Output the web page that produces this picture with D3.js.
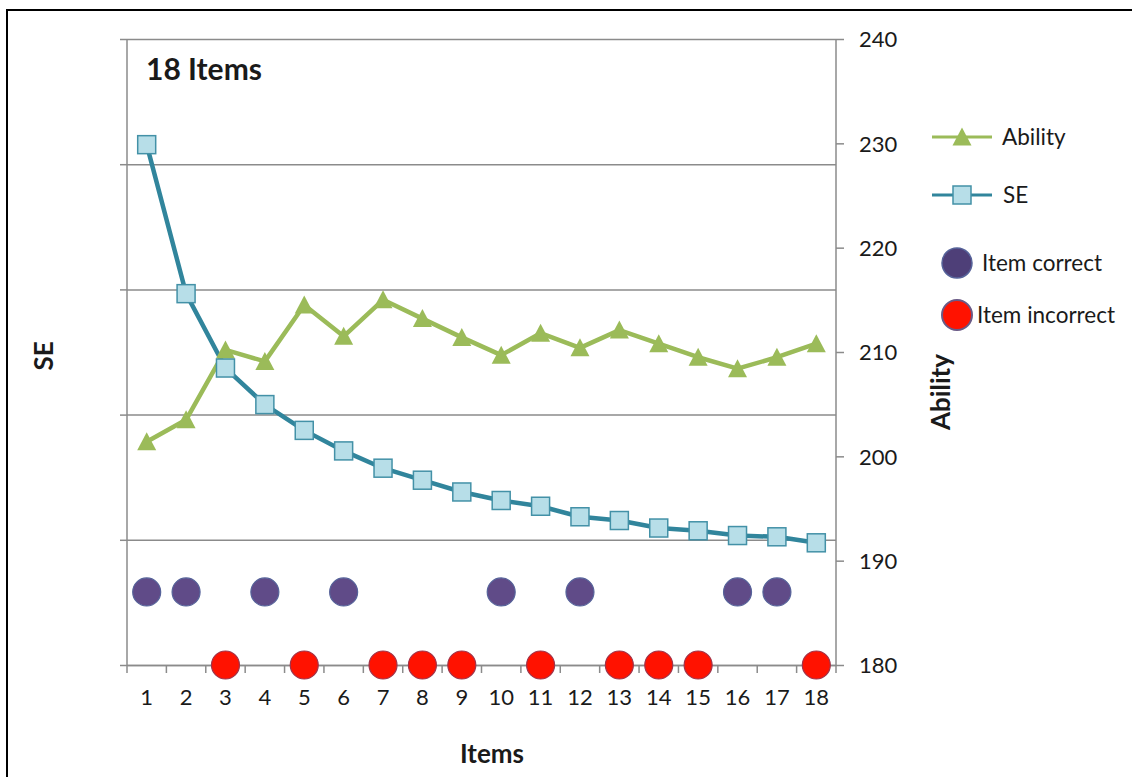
<!DOCTYPE html>
<html>
<head>
<meta charset="utf-8">
<script src="https://cdn.jsdelivr.net/npm/d3@7"></script>
<style>
  html, body { margin: 0; padding: 0; background: #fff; }
  svg { display: block; }
  text { font-family: Lato, "Open Sans", "Noto Sans", sans-serif; fill: #1a1a1a; }
</style>
</head>
<body>
<svg id="chart" width="1132" height="777"></svg>
<script>
// Item sequence of the adaptive test
const items = d3.range(1, 19);

// Ability estimate after each item (right axis)
const ability = [201.4, 203.5, 210.2, 209.1, 214.5, 211.5, 215.0, 213.2, 211.4,
                 209.7, 211.8, 210.4, 212.1, 210.8, 209.5, 208.4, 209.5, 210.8];

// Standard error after each item (left axis)
const se = [20.78, 14.83, 11.86, 10.40, 9.37, 8.55, 7.86, 7.38, 6.91,
            6.57, 6.34, 5.92, 5.77, 5.47, 5.36, 5.17, 5.12, 4.88];

// Response to each item: 1 = correct, 0 = incorrect
const responses = [1, 1, 0, 1, 0, 1, 0, 0, 0, 1, 0, 1, 0, 0, 0, 1, 1, 0];

// Marker heights (right axis) for the response rows
const correctLevel = 187;
const incorrectLevel = 180;

const rightTicks = [180, 190, 200, 210, 220, 230, 240];
const leftTicks = [0, 5, 10, 15, 20, 25];

const C = {
  grid: "#8b8b8b",
  seLine: "#31859c",
  seFill: "#b7dee8",
  seEdge: "#4391a7",
  abLine: "#9bbb59",
  correct: "#604b88",
  correctEdge: "#56639a",
  incorrect: "#ff1200",
  incorrectEdge: "#a0344a"
};

const svg = d3.select("#chart");
const L = 127, R = 836, T = 39, B = 665;

const x = d3.scaleBand().domain(items).range([L, R]).padding(0);
const cx = d => x(d) + x.bandwidth() / 2;
const yL = d3.scaleLinear().domain([0, 25]).range([B, T]);
const yR = d3.scaleLinear().domain([180, 240]).range([B, T]);

// Outer frame (left and top edges)
svg.append("path")
  .attr("d", `M7,777 L7,10 L1132,10`)
  .attr("fill", "none").attr("stroke", "#000").attr("stroke-width", 2);

// Left axis: gridlines and outward ticks, labels hidden
const gLeft = svg.append("g").attr("transform", `translate(${L},0)`)
  .call(d3.axisLeft(yL).tickValues(leftTicks).tickSize(7).tickFormat(""));
gLeft.select(".domain").remove();
gLeft.selectAll(".tick line").attr("stroke", C.grid).attr("stroke-width", 1.5);
gLeft.selectAll(".tick").append("line")
  .attr("x1", 0).attr("x2", R - L)
  .attr("stroke", C.grid).attr("stroke-width", 1.5);

// Axis lines
svg.append("line").attr("x1", L).attr("x2", L).attr("y1", T).attr("y2", B)
  .attr("stroke", C.grid).attr("stroke-width", 1.5);
svg.append("line").attr("x1", R).attr("x2", R).attr("y1", T).attr("y2", B)
  .attr("stroke", C.grid).attr("stroke-width", 1.5);

// Right axis
const gRight = svg.append("g").attr("transform", `translate(${R},0)`)
  .call(d3.axisRight(yR).tickValues(rightTicks).tickSize(8).tickPadding(15));
gRight.select(".domain").remove();
gRight.selectAll(".tick line").attr("stroke", C.grid).attr("stroke-width", 1.5);
gRight.selectAll(".tick text")
  .attr("font-family", "Lato, sans-serif").attr("font-size", 22)
  .attr("fill", "#222").attr("dy", "0.36em");

// Bottom axis: labels at category centres, ticks between categories
const gBottom = svg.append("g").attr("transform", `translate(0,${B})`)
  .call(d3.axisBottom(x).tickSize(0).tickPadding(24));
gBottom.select(".domain").attr("stroke", C.grid).attr("stroke-width", 1.5);
gBottom.selectAll(".tick text")
  .attr("font-family", "Lato, sans-serif").attr("font-size", 22)
  .attr("fill", "#222").attr("dy", "0.71em");
const bounds = items.map(d => x(d)).concat([x.range()[1]]);
gBottom.selectAll("line.sep").data(bounds).enter().append("line")
  .attr("class", "sep")
  .attr("x1", d => d).attr("x2", d => d).attr("y1", 0).attr("y2", 8)
  .attr("stroke", C.grid).attr("stroke-width", 1.5);

// Marker shapes
const triPath = "M0,-9.5 L9.5,8.5 L-9.5,8.5 Z";

// SE series
svg.append("path")
  .datum(se)
  .attr("d", d3.line().x((d, i) => cx(items[i])).y(d => yL(d)))
  .attr("fill", "none").attr("stroke", C.seLine).attr("stroke-width", 4.5)
  .attr("stroke-linejoin", "round");

// Ability series
svg.append("path")
  .datum(ability)
  .attr("d", d3.line().x((d, i) => cx(items[i])).y(d => yR(d)))
  .attr("fill", "none").attr("stroke", C.abLine).attr("stroke-width", 4.5)
  .attr("stroke-linejoin", "round");

svg.append("g").selectAll("path").data(ability).enter().append("path")
  .attr("d", triPath)
  .attr("transform", (d, i) => `translate(${cx(items[i])},${yR(d)})`)
  .attr("fill", C.abLine);

svg.append("g").selectAll("rect").data(se).enter().append("rect")
  .attr("x", (d, i) => cx(items[i]) - 9).attr("y", d => yL(d) - 9)
  .attr("width", 18).attr("height", 18)
  .attr("fill", C.seFill).attr("stroke", C.seEdge).attr("stroke-width", 1.5);

// Response markers
const resp = items.map((d, i) => ({ item: d, ok: responses[i] === 1 }));
svg.append("g").selectAll("circle").data(resp).enter().append("circle")
  .attr("cx", d => cx(d.item))
  .attr("cy", d => yR(d.ok ? correctLevel : incorrectLevel))
  .attr("r", 14)
  .attr("fill", d => d.ok ? C.correct : C.incorrect)
  .attr("stroke", d => d.ok ? C.correctEdge : C.incorrectEdge)
  .attr("stroke-width", 1.2);

// Title
svg.append("text").attr("x", 146).attr("y", 80)
  .attr("font-size", 30).attr("font-weight", "bold").text("18 Items");

// Axis titles
svg.append("text")
  .attr("transform", "translate(53,356) rotate(-90)")
  .attr("text-anchor", "middle").attr("font-size", 26).attr("font-weight", "bold")
  .text("SE");
svg.append("text")
  .attr("transform", "translate(950,392) rotate(-90)")
  .attr("text-anchor", "middle").attr("font-size", 26).attr("font-weight", "bold")
  .text("Ability");
svg.append("text")
  .attr("x", 492).attr("y", 763)
  .attr("text-anchor", "middle").attr("font-size", 26).attr("font-weight", "bold")
  .text("Items");

// Legend
const lg = svg.append("g");
lg.append("line").attr("x1", 932).attr("x2", 992).attr("y1", 137).attr("y2", 137)
  .attr("stroke", C.abLine).attr("stroke-width", 3);
lg.append("path").attr("d", triPath).attr("transform", "translate(962,137)")
  .attr("fill", C.abLine);
lg.append("text").attr("x", 1002).attr("y", 137).attr("dy", "0.35em")
  .attr("font-size", 22.5).text("Ability");

lg.append("line").attr("x1", 932).attr("x2", 992).attr("y1", 195).attr("y2", 195)
  .attr("stroke", C.seLine).attr("stroke-width", 3);
lg.append("rect").attr("x", 953).attr("y", 186).attr("width", 18).attr("height", 18)
  .attr("fill", C.seFill).attr("stroke", C.seEdge).attr("stroke-width", 1.5);
lg.append("text").attr("x", 1003).attr("y", 195).attr("dy", "0.35em")
  .attr("font-size", 22.5).text("SE");

lg.append("circle").attr("cx", 957).attr("cy", 263).attr("r", 15)
  .attr("fill", "#4e3f78").attr("stroke", C.correctEdge).attr("stroke-width", 1.5);
lg.append("text").attr("x", 982).attr("y", 263).attr("dy", "0.35em")
  .attr("font-size", 22.5).text("Item correct");

lg.append("circle").attr("cx", 957).attr("cy", 315).attr("r", 15)
  .attr("fill", C.incorrect).attr("stroke", "#6a5a86").attr("stroke-width", 2);
lg.append("text").attr("x", 977).attr("y", 315).attr("dy", "0.35em")
  .attr("font-size", 22.5).text("Item incorrect");
</script>
</body>
</html>
